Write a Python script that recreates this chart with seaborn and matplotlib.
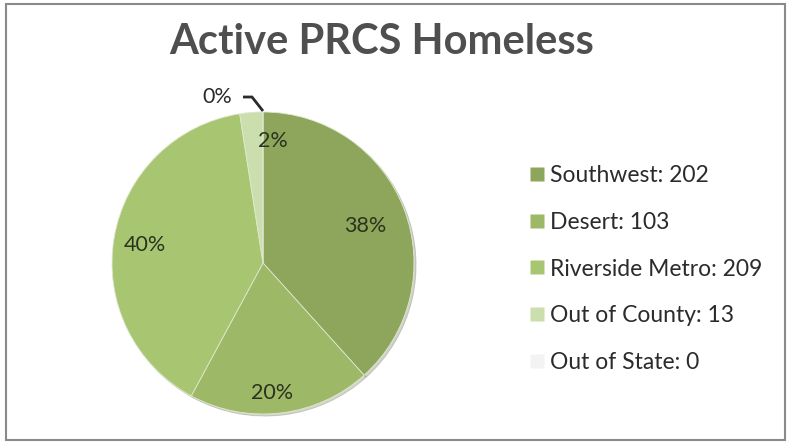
import matplotlib
matplotlib.use("Agg")
import matplotlib.pyplot as plt
from matplotlib.patches import Rectangle
from matplotlib.lines import Line2D
import numpy as np
import seaborn as sns

# Data
regions = ["Southwest", "Desert", "Riverside Metro", "Out of County", "Out of State"]
counts = [202, 103, 209, 13, 0]
colors = ["#8ea65b", "#9db867", "#a8c672", "#cbdfae", "#f3f3f3"]
title = "Active PRCS Homeless"

sns.set_theme(style="white")
plt.rcParams["font.family"] = ["Lato", "DejaVu Sans"]

W, H = 787, 443
fig = plt.figure(figsize=(W / 100, H / 100), dpi=100)
ax = fig.add_axes([0, 0, 1, 1])

cx, cy, r = 263, H - 263, 151

wedges, texts, autotexts = ax.pie(
    counts, colors=colors, startangle=90, counterclock=False,
    center=(cx, cy), radius=r, autopct="%.0f%%", pctdistance=0.8,
    wedgeprops=dict(edgecolor="#dfe8cf", linewidth=0.6),
    textprops=dict(fontsize=15.5, color="#2b3320"),
    shadow=dict(ox=1.5, oy=-1.5, shade=0.5, alpha=0.25),
    frame=True,
)
ax.set_xlim(0, W)
ax.set_ylim(0, H)
ax.set_aspect("equal")
ax.axis("off")

# label placement along each wedge: (distance factor, angle offset in degrees)
placement = [(0.72, -1), (0.86, -3), (0.79, 1), (0.81, -9)]
for wdg, txt, (dist, dang) in zip(wedges, autotexts, placement):
    ang = np.deg2rad((wdg.theta1 + wdg.theta2) / 2 + dang)
    txt.set_position((cx + dist * r * np.cos(ang), cy + dist * r * np.sin(ang)))
    txt.set_ha("center")
    txt.set_va("center")

# zero slice: label outside, joined to the rim by a bent leader line
zero = autotexts[4]
top = wedges[4]
ang = np.deg2rad(top.theta1)
px, py = cx + r * np.cos(ang), cy + r * np.sin(ang)
zero.set_position((px - 46, py + 15))
zero.set_color("#2b2b2b")
ax.plot([px - 20, px - 11, px], [py + 15, py + 15, py + 1],
        color="#2b2b2b", lw=2, solid_capstyle="butt", solid_joinstyle="miter")

handles = [Line2D([0], [0], marker="s", linestyle="none", markersize=10,
                  markerfacecolor=c, markeredgecolor="none") for c in colors]
labels = [f"{n}: {v}" for n, v in zip(regions, counts)]
leg = ax.legend(handles, labels, loc="upper left", bbox_to_anchor=(518 / W, 1 - 156 / H),
                bbox_transform=fig.transFigure, frameon=False,
                prop=dict(size=16.5),
                handletextpad=0.1, labelspacing=1.12, handlelength=0.9,
                borderaxespad=0)
for t in leg.get_texts():
    t.set_color("#2b2b2b")

fig.text(382 / W, 1 - 42 / H, title, ha="center", va="center",
         fontsize=30, fontweight="bold", color="#4f4f4f")

fig.patches.append(Rectangle((6 / W, 3 / H), 779 / W, 436 / H, transform=fig.transFigure,
                             fill=False, edgecolor="#8a8a8a", linewidth=1.5))

fig.savefig("out.png", dpi=100, facecolor="white")
